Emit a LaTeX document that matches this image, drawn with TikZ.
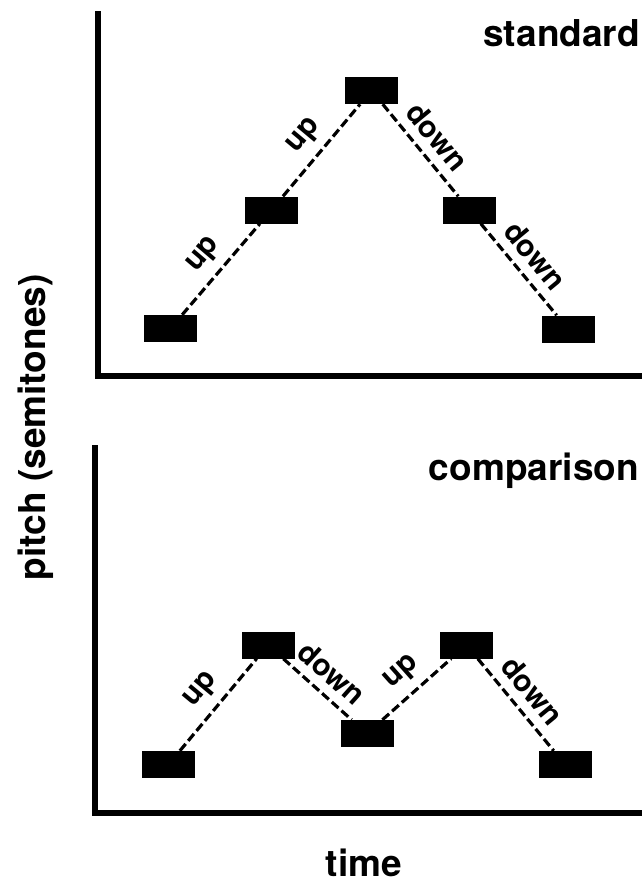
\documentclass[tikz,border=0pt]{standalone}
\usepackage{fontspec}
\setmainfont{TeX Gyre Heros}
\begin{document}
\begin{tikzpicture}[x=1pt,y=-1pt,
  note/.style={fill=black, minimum width=53pt, minimum height=27pt, inner sep=0pt},
  link/.style={line width=3.2pt, dash pattern=on 9pt off 4pt},
  axis/.style={line width=6pt},
  title/.style={font=\fontsize{37}{40}\selectfont\bfseries, inner sep=0pt},
  steplabel/.style={font=\fontsize{30}{32}\selectfont\bfseries, sloped, above=8pt, pos=0.5, inner sep=1pt}]
\useasboundingbox[fill=white] (0,0) rectangle (642,881);

% axes of the two panels
\coordinate (tTop) at (97.5,11);
\coordinate (tCorner) at (97.5,376);
\coordinate (tEnd) at (642,376);
\coordinate (bTop) at (95,445);
\coordinate (bCorner) at (95,813);
\coordinate (bEnd) at (642,813);
\draw[axis] (tTop) -- (tCorner) -- (tEnd);
\draw[axis] (bTop) -- (bCorner) -- (bEnd);

% standard melody
\node[note] (s1) at (170.5,328.5) {};
\node[note] (s2) at (271.5,210) {};
\node[note] (s3) at (371.5,90.5) {};
\node[note] (s4) at (469.5,210) {};
\node[note] (s5) at (568,329) {};
\draw[link] (s1) -- node[steplabel] {up} (s2);
\draw[link] (s2) -- node[steplabel] {up} (s3);
\draw[link] (s3) -- node[steplabel] {down} (s4);
\draw[link] (s4) -- node[steplabel] {down} (s5);

% comparison melody
\node[note] (c1) at (168.5,764.5) {};
\node[note] (c2) at (268,645) {};
\node[note] (c3) at (367,733.5) {};
\node[note] (c4) at (466.5,645) {};
\node[note] (c5) at (565,764.5) {};
\draw[link] (c1) -- node[steplabel] {up} (c2);
\draw[link] (c2) -- node[steplabel] {down} (c3);
\draw[link] (c3) -- node[steplabel] {up} (c4);
\draw[link] (c4) -- node[steplabel] {down} (c5);

% titles and axis labels
\node[title, anchor=base east] (standard) at (640,46) {standard};
\node[title, anchor=base east] (comparison) at (639,480) {comparison};
\node[title, anchor=base] (time) at (364,876) {time};
\node[title, rotate=90, anchor=base] (pitch) at (45,427.5) {pitch (semitones)};
\end{tikzpicture}
\end{document}
